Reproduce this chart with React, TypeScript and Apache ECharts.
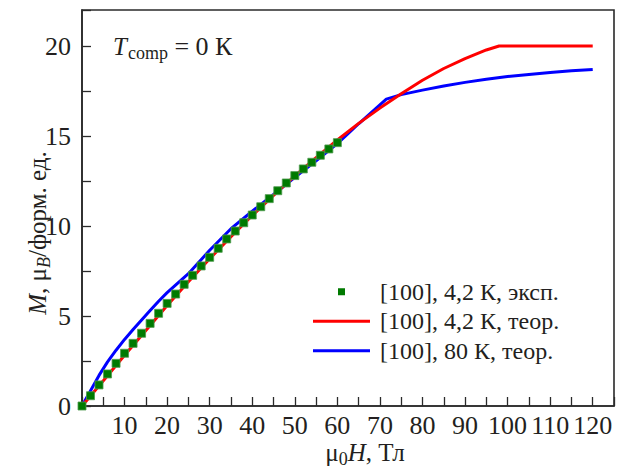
import React, { useEffect, useRef } from "react";
import * as echarts from "echarts";

const expH = [0, 2, 4, 6, 8, 10, 12, 14, 16, 18, 20, 22, 24, 26, 28, 30, 32, 34, 36, 38, 40, 42, 44, 46, 48, 50, 52, 54, 56, 58, 60];
const expM = [0, 0.57, 1.17, 1.78, 2.37, 2.93, 3.48, 4.04, 4.59, 5.15, 5.7, 6.22, 6.76, 7.26, 7.78, 8.26, 8.76, 9.28, 9.72, 10.18, 10.61, 11.07, 11.52, 11.96, 12.39, 12.8, 13.17, 13.54, 13.93, 14.28, 14.63];

const redH = [0, 5, 10, 15, 20, 25, 30, 35, 40, 45, 50, 55, 60, 65, 70, 75, 80, 85, 90, 95, 98, 120];
const redM = [0, 1.4, 2.82, 4.2, 5.58, 6.9, 8.18, 9.4, 10.58, 11.7, 12.78, 13.8, 14.78, 15.7, 16.55, 17.35, 18.1, 18.75, 19.3, 19.78, 20.0, 20.0];

const blueH = [0, 2, 4, 6, 8, 10, 12, 14, 16, 18, 20, 25, 30, 35, 40, 45, 50, 55, 60, 65, 71.5, 75, 80, 85, 90, 95, 100, 105, 110, 115, 120];
const blueM = [0, 0.85, 1.7, 2.45, 3.1, 3.7, 4.25, 4.78, 5.3, 5.82, 6.3, 7.35, 8.65, 9.85, 10.82, 11.75, 12.7, 13.62, 14.58, 15.68, 17.05, 17.3, 17.55, 17.78, 17.98, 18.15, 18.3, 18.42, 18.53, 18.62, 18.7];

const seriesNames = ["[100], 4,2 К, эксп.", "[100], 4,2 К, теор.", "[100], 80 К, теор."];

const FONT = "Liberation Serif";
const TXT = "#231f20";

export default function App() {
  const ref = useRef<HTMLDivElement>(null);
  useEffect(() => {
    if (!ref.current) return;
    const chart = echarts.init(ref.current, null, { renderer: "svg" });
    const zip = (a: number[], b: number[]) => a.map((v, i) => [v, b[i]]);
    const lineIcon = "path://M0,0L0.01,0M0,8L0.01,8M0,2.5H57V5.5H0Z";
    chart.setOption({
      animation: false,
      backgroundColor: "#ffffff",
      textStyle: { fontFamily: FONT },
      grid: {
        left: 82,
        top: 10,
        right: 10,
        bottom: 63,
        show: true,
        borderColor: "#2a2a2a",
        borderWidth: 1.6,
        backgroundColor: "transparent",
      },
      xAxis: {
        type: "value",
        min: 0,
        max: 125,
        interval: 5,
        axisLine: { show: true, lineStyle: { color: "#2a2a2a", width: 1.6 } },
        axisTick: { show: true, inside: true, length: 9, lineStyle: { color: "#2a2a2a", width: 1.3 } },
        splitLine: { show: false },
        axisLabel: {
          color: TXT,
          fontSize: 26,
          fontFamily: FONT,
          margin: 6,
          formatter: (v: number) => (v % 10 === 0 && v > 0 && v <= 120 ? String(v) : ""),
        },
      },
      yAxis: {
        type: "value",
        min: 0,
        max: 22,
        interval: 2.5,
        axisLine: { show: true, lineStyle: { color: "#2a2a2a", width: 1.6 } },
        axisTick: { show: true, inside: true, length: 9, lineStyle: { color: "#2a2a2a", width: 1.3 } },
        splitLine: { show: false },
        axisLabel: {
          color: TXT,
          fontSize: 26,
          fontFamily: FONT,
          margin: 11,
          formatter: (v: number) => (v % 5 === 0 && v <= 20 ? String(v) : ""),
        },
      },
      legend: {
        orient: "vertical",
        left: 313,
        top: 277,
        padding: 0,
        itemWidth: 57,
        itemHeight: 8,
        itemGap: 0,
        textStyle: { fontFamily: FONT, fontSize: 24, color: TXT, lineHeight: 29.5, padding: [0, 0, 0, 5] },
        data: [
          {
            name: seriesNames[0],
            icon: "path://M0,0L0,0.01M57,8L57,7.99M25,0.5H32V7.5H25Z",
            itemStyle: { borderWidth: 0 },
          },
          { name: seriesNames[1], icon: lineIcon, itemStyle: { color: "#ff0000", borderWidth: 0 } },
          { name: seriesNames[2], icon: lineIcon, itemStyle: { color: "#0000ff", borderWidth: 0 } },
        ],
      },
      series: [
        {
          name: seriesNames[2],
          type: "line",
          data: zip(blueH, blueM),
          symbol: "none",
          lineStyle: { color: "#0000ff", width: 3 },
          itemStyle: { color: "#0000ff" },
          z: 2,
        },
        {
          name: seriesNames[1],
          type: "line",
          data: zip(redH, redM),
          symbol: "none",
          lineStyle: { color: "#ff0000", width: 3 },
          itemStyle: { color: "#ff0000" },
          z: 3,
        },
        {
          name: seriesNames[0],
          type: "scatter",
          data: zip(expH, expM),
          symbol: "rect",
          symbolSize: 8,
          itemStyle: { color: "#007a00", borderColor: "#4f9a4f", borderWidth: 0.8, opacity: 1 },
          z: 4,
        },
      ],
      graphic: [
        {
          type: "text",
          left: 113,
          top: 33,
          style: {
            text: "{i|T}{sub|comp}{n| = 0 К}",
            fill: TXT,
            rich: {
              i: { fontFamily: FONT, fontSize: 25, fontStyle: "italic", fill: TXT },
              sub: { fontFamily: FONT, fontSize: 18, fill: TXT, padding: [14, 0, 0, 1] },
              n: { fontFamily: FONT, fontSize: 26, fill: TXT },
            },
          },
        },
        {
          type: "text",
          x: 365,
          y: 452,
          style: {
            text: "{n|μ}{sub|0}{i|H}{n|, Тл}",
            align: "center",
            verticalAlign: "middle",
            fill: TXT,
            rich: {
              i: { fontFamily: FONT, fontSize: 25, fontStyle: "italic", fill: TXT },
              sub: { fontFamily: FONT, fontSize: 18, fill: TXT, padding: [14, 0, 0, 0] },
              n: { fontFamily: FONT, fontSize: 25, fill: TXT },
            },
          },
        },
        {
          type: "text",
          x: 37,
          y: 233,
          rotation: Math.PI / 2,
          style: {
            text: "{i|M}{n|, μ}{sb|B}{n|/форм. ед.}",
            align: "center",
            verticalAlign: "middle",
            fill: TXT,
            rich: {
              i: { fontFamily: FONT, fontSize: 25, fontStyle: "italic", fill: TXT },
              sb: { fontFamily: FONT, fontSize: 18, fontStyle: "italic", fill: TXT, padding: [14, 0, 0, 0] },
              n: { fontFamily: FONT, fontSize: 25, fill: TXT },
            },
          },
        },
      ],
    });
    return () => chart.dispose();
  }, []);
  return <div ref={ref} style={{ position: "fixed", left: 0, top: 0, width: 624, height: 469 }} />;
}
